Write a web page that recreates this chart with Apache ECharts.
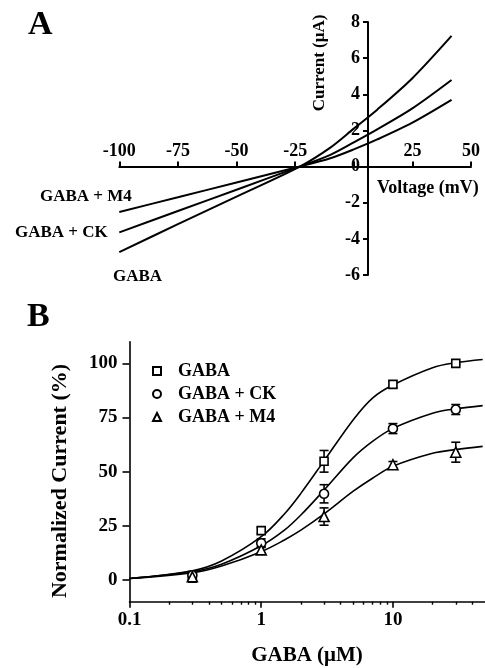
<!DOCTYPE html>
<html>
<head>
<meta charset="utf-8">
<script src="https://cdn.jsdelivr.net/npm/echarts@6/dist/echarts.min.js"></script>
<style>
  html, body { margin: 0; padding: 0; background: #fff; }
  #chart { width: 485px; height: 668px; }
</style>
</head>
<body>
<div id="chart"></div>
<script>
// Panel A: current-voltage curves
const voltage = [-100, -75, -50, -23, -10, 0, 10, 25, 41.7]
const ivGaba = [-4.73, -3.19, -1.66, 0, 1.05, 2.1, 3.15, 4.89, 7.23]
const ivCK = [-3.64, -2.46, -1.28, 0, 0.65, 1.34, 2.06, 3.22, 4.79]
const ivM4 = [-2.51, -1.70, -0.88, 0, 0.46, 0.95, 1.5, 2.43, 3.69]

// Panel B: concentration-response points, SEM and fitted curves
const conc = [0.3, 1, 3, 10, 30]
const gabaMean = [2, 22.8, 54.8, 90.3, 100]
const gabaErr = [1.5, 1.5, 5, 1.5, 0.5]
const ckMean = [2.2, 17, 39.8, 69.9, 78.7]
const ckErr = [1.5, 2, 4.2, 2.3, 2.3]
const m4Mean = [1.5, 13.9, 29.3, 53.2, 59]
const m4Err = [2.5, 1.5, 4, 1.5, 4.6]

const fitConc = [0.1, 0.3, 0.5, 1, 1.5, 2, 3, 5, 7, 10, 20, 30, 48]
const gabaFit = [0.7, 4.3, 8.8, 20, 30.5, 40, 55, 74, 84, 90, 98, 100.3, 101.8]
const ckFit = [0.7, 3.9, 7.3, 15.8, 23, 30, 41.5, 56.5, 64, 70, 77, 79, 80.5]
const m4Fit = [0.7, 3.4, 6.5, 13.1, 18.5, 23, 30.5, 41, 47, 52.5, 58.5, 60.2, 61.7]

const concLabels = [0.1, 1, 10]
const concMinor = [0.2, 0.3, 0.4, 0.5, 0.6, 0.7, 0.8, 0.9, 2, 3, 4, 5, 6, 7, 8, 9, 20, 30, 40]
const pctTicks = [0, 25, 50, 75, 100]

const FONT = "'Liberation Serif', 'Times New Roman', serif"

const zip = (xs, ys) => xs.map((x, i) => [x, ys[i]])
const zip3 = (xs, ys, es) => xs.map((x, i) => [x, ys[i], es[i]])

const chart = echarts.init(document.getElementById('chart'), null, { renderer: 'canvas' })

const labelStyle = (size) => ({
  color: '#000',
  fontFamily: FONT,
  fontWeight: 'bold',
  fontSize: size
})

const ivLine = (name, data) => ({
  name: name,
  type: 'line',
  xAxisIndex: 0,
  yAxisIndex: 0,
  data: zip(voltage, data),
  smooth: 0.3,
  showSymbol: false,
  lineStyle: { color: '#000', width: 2 },
  silent: true
})

const fitLine = (name, data) => ({
  name: name,
  type: 'line',
  xAxisIndex: 2,
  yAxisIndex: 2,
  data: zip(fitConc, data),
  smooth: 0.35,
  showSymbol: false,
  lineStyle: { color: '#000', width: 1.6 },
  z: 2,
  silent: true
})

const errBars = (data) => ({
  type: 'custom',
  xAxisIndex: 2,
  yAxisIndex: 2,
  data: data,
  z: 3,
  silent: true,
  encode: { x: 0, y: 1 },
  renderItem: (params, api) => {
    const x = api.value(0)
    const y = api.value(1)
    const e = api.value(2)
    const top = api.coord([x, y + e])
    const bot = api.coord([x, y - e])
    const w = 4.5
    const st = { stroke: '#000', lineWidth: 1.6 }
    return {
      type: 'group',
      children: [
        { type: 'line', shape: { x1: top[0], y1: top[1], x2: bot[0], y2: bot[1] }, style: st },
        { type: 'line', shape: { x1: top[0] - w, y1: top[1], x2: top[0] + w, y2: top[1] }, style: st },
        { type: 'line', shape: { x1: bot[0] - w, y1: bot[1], x2: bot[0] + w, y2: bot[1] }, style: st }
      ]
    }
  }
})

const points = (name, symbol, size, data) => ({
  name: name,
  type: 'scatter',
  xAxisIndex: 2,
  yAxisIndex: 2,
  data: zip(conc, data),
  symbol: symbol,
  symbolSize: size,
  itemStyle: { color: '#fff', borderColor: '#000', borderWidth: 1.6, opacity: 1 },
  z: 4,
  silent: true
})

const option = {
  animation: false,
  backgroundColor: '#fff',
  grid: [
    { left: 119.3, top: 22, width: 351.7, height: 253 },
    { left: 368, top: 22, width: 10, height: 253 },
    { left: 129.5, top: 341.7, width: 355.5, height: 260 },
    // thin strip whose top edge sits on current = 0, carries the voltage axis
    { left: 119.3, top: 166.6, width: 351.7, height: 10 }
  ],
  xAxis: [
    { gridIndex: 0, type: 'value', min: -100, max: 50, show: false },
    { gridIndex: 1, type: 'value', min: 0, max: 1, show: false },
    {
      gridIndex: 2,
      type: 'log',
      min: 0.1,
      max: 50,
      position: 'bottom',
      axisLine: { onZero: false, lineStyle: { color: '#000', width: 1.6 } },
      axisTick: { length: 6, customValues: concLabels, lineStyle: { color: '#000', width: 1.6 } },
      axisLabel: Object.assign(labelStyle(19), {
        margin: 9,
        customValues: concLabels,
        formatter: (v) => String(v)
      }),
      splitLine: { show: false }
    },
    {
      gridIndex: 2,
      type: 'log',
      min: 0.1,
      max: 50,
      position: 'bottom',
      axisLine: { show: false, onZero: false },
      axisTick: { length: 3, customValues: concMinor, lineStyle: { color: '#000', width: 1.4 } },
      axisLabel: { show: false },
      splitLine: { show: false }
    },
    {
      gridIndex: 3,
      type: 'value',
      min: -100,
      max: 50,
      interval: 25,
      position: 'top',
      axisLine: { onZero: false, lineStyle: { color: '#000', width: 2 } },
      axisTick: { length: 5, lineStyle: { color: '#000', width: 2 } },
      axisLabel: Object.assign(labelStyle(18), {
        margin: 6,
        formatter: (v) => (v === 0 ? '' : String(v))
      }),
      splitLine: { show: false }
    }
  ],
  yAxis: [
    { gridIndex: 0, type: 'value', min: -6, max: 8, show: false },
    {
      gridIndex: 1,
      type: 'value',
      min: -6,
      max: 8,
      interval: 2,
      position: 'left',
      axisLine: { show: true, onZero: false, lineStyle: { color: '#000', width: 2 } },
      axisTick: { show: true, length: 5, lineStyle: { color: '#000', width: 2 } },
      axisLabel: Object.assign(labelStyle(18), { margin: 8 }),
      splitLine: { show: false }
    },
    {
      gridIndex: 2,
      type: 'value',
      min: -10,
      max: 110,
      axisLine: { show: true, onZero: false, lineStyle: { color: '#000', width: 1.6 } },
      axisTick: { show: true, length: 7, customValues: pctTicks, lineStyle: { color: '#000', width: 1.6 } },
      axisLabel: Object.assign(labelStyle(19), { margin: 12, customValues: pctTicks }),
      splitLine: { show: false }
    },
    { gridIndex: 3, type: 'value', min: 0, max: 1, show: false }
  ],
  legend: {
    data: ['GABA', 'GABA + CK', 'GABA + M4'],
    orient: 'vertical',
    left: 147,
    top: 357,
    itemWidth: 8,
    itemHeight: 8,
    itemGap: 5,
    selectedMode: false,
    textStyle: Object.assign(labelStyle(18), { padding: [0, 0, 0, 12] })
  },
  graphic: [
    { type: 'text', left: 28, top: 8, style: { text: 'A', font: 'bold 34px ' + FONT, fill: '#000' } },
    { type: 'text', left: 27, top: 300, style: { text: 'B', font: 'bold 34px ' + FONT, fill: '#000' } },
    {
      type: 'text', x: 320, y: 63, rotation: Math.PI / 2,
      style: { text: 'Current (μA)', font: 'bold 17px ' + FONT, fill: '#000', align: 'center', verticalAlign: 'middle' }
    },
    {
      type: 'text', x: 377, y: 188,
      style: { text: 'Voltage (mV)', font: 'bold 18px ' + FONT, fill: '#000', align: 'left', verticalAlign: 'middle' }
    },
    {
      type: 'text', x: 40, y: 197,
      style: { text: 'GABA + M4', font: 'bold 17px ' + FONT, fill: '#000', align: 'left', verticalAlign: 'middle' }
    },
    {
      type: 'text', x: 15, y: 233,
      style: { text: 'GABA + CK', font: 'bold 17px ' + FONT, fill: '#000', align: 'left', verticalAlign: 'middle' }
    },
    {
      type: 'text', x: 113, y: 277,
      style: { text: 'GABA', font: 'bold 17px ' + FONT, fill: '#000', align: 'left', verticalAlign: 'middle' }
    },
    {
      type: 'text', x: 60, y: 481, rotation: Math.PI / 2,
      style: { text: 'Normalized Current (%)', font: 'bold 22px ' + FONT, fill: '#000', align: 'center', verticalAlign: 'middle' }
    },
    {
      type: 'text', x: 307, y: 656,
      style: { text: 'GABA (μM)', font: 'bold 21px ' + FONT, fill: '#000', align: 'center', verticalAlign: 'middle' }
    }
  ],
  series: [
    ivLine('IV GABA', ivGaba),
    ivLine('IV GABA + CK', ivCK),
    ivLine('IV GABA + M4', ivM4),
    fitLine('fit GABA', gabaFit),
    fitLine('fit GABA + CK', ckFit),
    fitLine('fit GABA + M4', m4Fit),
    errBars(zip3(conc, gabaMean, gabaErr)),
    errBars(zip3(conc, ckMean, ckErr)),
    errBars(zip3(conc, m4Mean, m4Err)),
    points('GABA', 'rect', 8, gabaMean),
    points('GABA + CK', 'circle', 9, ckMean),
    points('GABA + M4', 'triangle', 10, m4Mean)
  ]
}

chart.setOption(option)
</script>
</body>
</html>
